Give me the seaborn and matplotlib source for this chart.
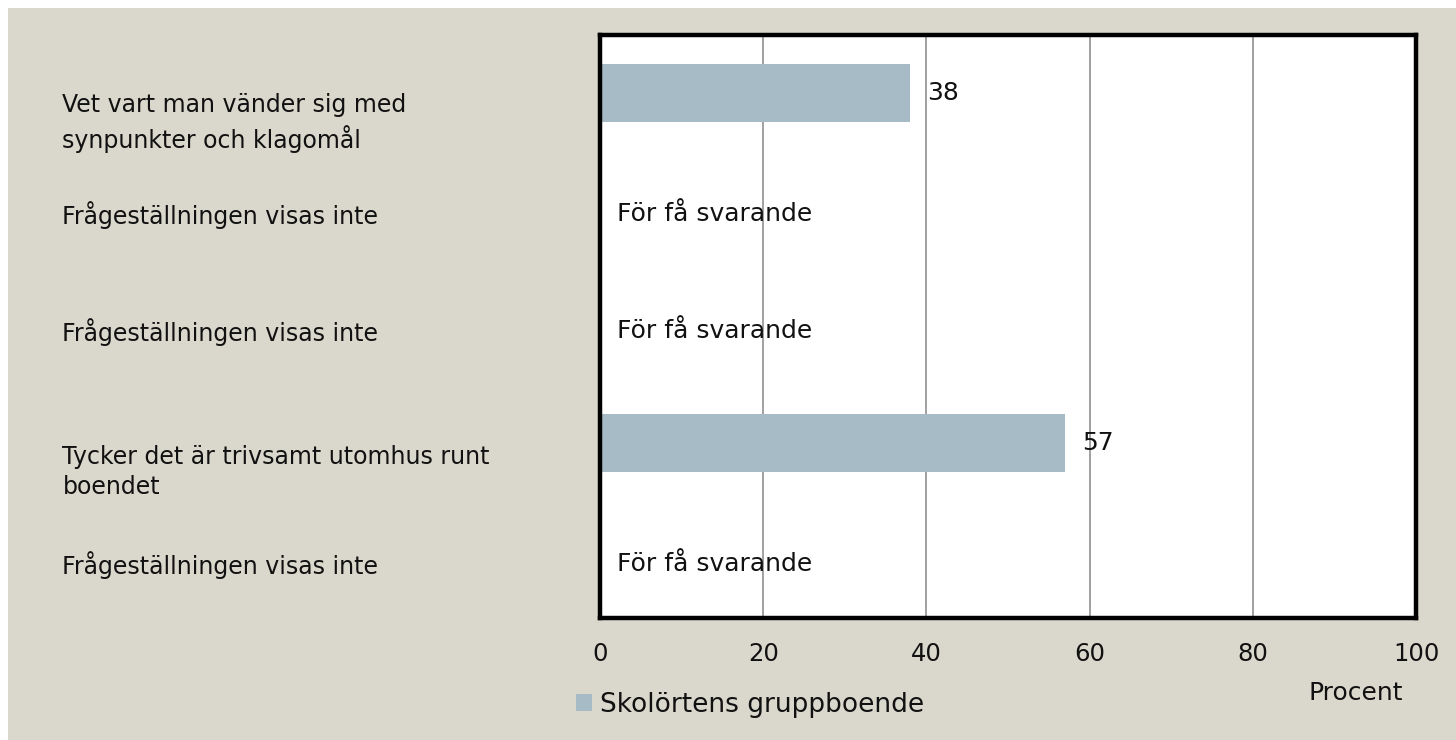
import matplotlib
matplotlib.use("Agg")
import matplotlib.pyplot as plt
import matplotlib.transforms as mtransforms
from matplotlib.patches import Rectangle
import numpy as np
import pandas as pd
import seaborn as sns

# --- data ---
questions = [
    "Vet vart man vänder sig med\nsynpunkter och klagomål",
    "Frågeställningen visas inte",
    "Frågeställningen visas inte ",
    "Tycker det är trivsamt utomhus runt\nboendet",
    "Frågeställningen visas inte  ",
]
percent = [38, np.nan, np.nan, 57, np.nan]
series_name = "Skolörtens gruppboende"
too_few_text = "För få svarande"
x_ticks = [0, 20, 40, 60, 80, 100]

bg = "#DAD8CC"
bar_color = "#A6BBC6"
txt = "#111111"

sns.set_theme(style="white")
plt.rcParams["font.family"] = ["DejaVu Sans"]

df = pd.DataFrame({"question": questions, "percent": percent})

fig = plt.figure(figsize=(14.56, 7.40), dpi=100, facecolor="white")
# beige panel with thin white strip at top and left
fig.patches.append(Rectangle((8 / 1456, 0), 1, 1 - 8 / 740, transform=fig.transFigure,
                             facecolor=bg, edgecolor="none", zorder=-10))

ax = fig.add_axes([600 / 1456, 1 - 618 / 740, 816 / 1456, 583 / 740])
ax.set_facecolor("white")

sns.barplot(data=df, x="percent", y="question", orient="h", color=bar_color,
            width=0.5, saturation=1, label=series_name, linewidth=0, ax=ax)

ax.set_xlim(0, 100)
ax.set_xticks(x_ticks)
ax.set_xticklabels([str(t) for t in x_ticks])
ax.xaxis.grid(True, color="#999999", linewidth=1.3)
ax.set_axisbelow(True)
ax.set_xlabel("")
ax.set_ylabel("")
for s in ax.spines.values():
    s.set_visible(True)
    s.set_color("black")
    s.set_linewidth(3.2)

ax.tick_params(axis="x", length=0, pad=17, labelsize=17.5, labelcolor=txt)
ax.tick_params(axis="y", length=0, pad=387, labelsize=17, labelcolor=txt)
for lab in ax.get_yticklabels():
    lab.set_ha("left")
    lab.set_linespacing(1.35)
    if "\n" in lab.get_text():
        lab.set_transform(lab.get_transform() +
                          mtransforms.ScaledTranslation(0, -23 / 100, fig.dpi_scale_trans))
    else:
        lab.set_transform(lab.get_transform() +
                          mtransforms.ScaledTranslation(0, -3 / 100, fig.dpi_scale_trans))

# value labels and "too few" notes
for i, v in enumerate(percent):
    if np.isnan(v):
        ax.annotate(too_few_text, xy=(0, i), xytext=(12, -3), textcoords="offset points",
                    ha="left", va="center", fontsize=18, color=txt)
    else:
        ax.annotate(f"{v:.0f}", xy=(v, i), xytext=(12, 0), textcoords="offset points",
                    ha="left", va="center", fontsize=18, color=txt)

fig.text(1356 / 1456, 1 - 693 / 740, "Procent", ha="center", va="center",
         fontsize=18, color=txt)

leg = ax.legend(loc="center left", bbox_to_anchor=(563 / 1456, 1 - 705 / 740),
                bbox_transform=fig.transFigure, frameon=False, fontsize=19,
                handlelength=0.6, handleheight=0.6, handletextpad=0.3, borderpad=0)
for t in leg.get_texts():
    t.set_color(txt)

fig.savefig("out.png", dpi=100, facecolor="white")
